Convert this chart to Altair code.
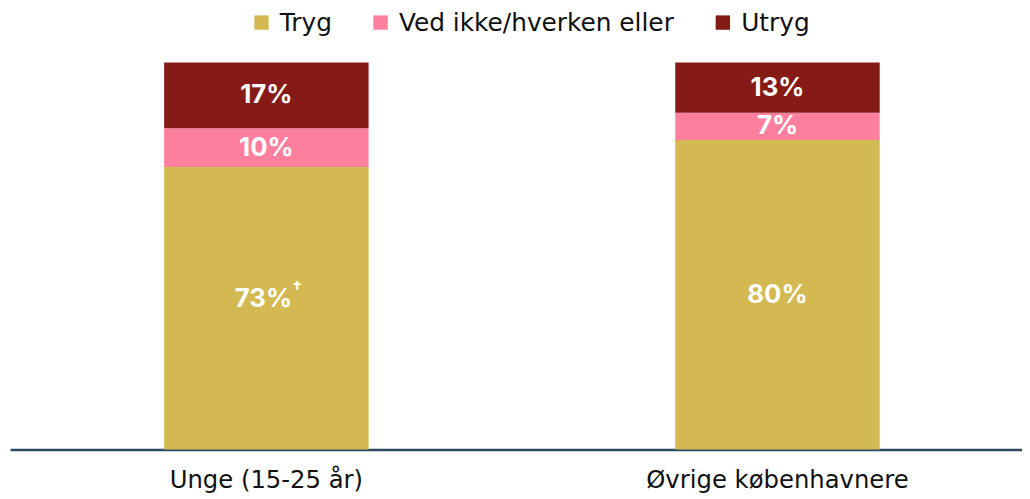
import altair as alt
import pandas as pd

groups = ["Unge (15-25 år)", "Unge (15-25 år)", "Unge (15-25 år)",
          "Øvrige københavnere", "Øvrige københavnere", "Øvrige københavnere"]
answers = ["Tryg", "Ved ikke/hverken eller", "Utryg",
           "Tryg", "Ved ikke/hverken eller", "Utryg"]
values = [73, 10, 17, 80, 7, 13]
orders = [0, 1, 2, 0, 1, 2]
notes = ["†", "", "", "", "", ""]

cats = ["Tryg", "Ved ikke/hverken eller", "Utryg"]
colors = ["#D4B952", "#FF7F9F", "#861A17"]
group_order = ["Unge (15-25 år)", "Øvrige københavnere"]

df = pd.DataFrame({"group": groups, "answer": answers, "value": values,
                   "ord": orders, "note": notes})
df["label"] = df["value"].astype(str) + "%"

FONT = "DejaVu Sans"
BFONT = "Inter"

base = alt.Chart(df).transform_stack(
    stack="value", groupby=["group"], as_=["y0", "y1"],
    sort=[alt.SortField("ord", order="ascending")]
).transform_calculate(mid="(datum.y0 + datum.y1) / 2")

xenc = alt.X("group:N", sort=group_order, title=None,
             scale=alt.Scale(paddingInner=0.6, paddingOuter=0.29, align=0.52),
             axis=alt.Axis(labelAngle=0, labelFontSize=24.5, labelFont=FONT,
                           labelColor="#111111", labelPadding=19, ticks=False,
                           labelLimit=0,
                           domainColor="#2E4A62", domainWidth=2.5, grid=False))
yscale = alt.Scale(domain=[0, 100], nice=False, zero=True)

bars = base.mark_bar().encode(
    x=xenc,
    y=alt.Y("y0:Q", scale=yscale, axis=None),
    y2="y1:Q",
    color=alt.Color("answer:N", scale=alt.Scale(domain=cats, range=colors),
                    legend=alt.Legend(title=None, orient="none", direction="horizontal",
                                      legendX=241, legendY=-53, symbolType="square",
                                      symbolSize=210, symbolStrokeWidth=0,
                                      labelOffset=6,
                                      labelFontSize=25, labelFont=FONT, labelLimit=0,
                                      labelColor="#111111", columnPadding=36,
                                      symbolOpacity=1)),
)

labels = base.transform_filter("datum.note == ''").mark_text(
    color="white", fontSize=26, fontWeight="bold",
    font=BFONT, baseline="middle").encode(
    x=alt.X("group:N", sort=group_order),
    y=alt.Y("mid:Q", scale=yscale),
    text="label:N",
)

noted = base.transform_filter("datum.note != ''")

noted_labels = noted.mark_text(
    color="white", fontSize=26, fontWeight="bold",
    font=BFONT, baseline="middle", dx=-3, dy=-9).encode(
    x=alt.X("group:N", sort=group_order),
    y=alt.Y("mid:Q", scale=yscale),
    text="label:N",
)

daggers = noted.mark_text(
    color="white", fontSize=17, fontWeight="bold", font=BFONT,
    align="left", baseline="middle", dx=26, dy=-19).encode(
    x=alt.X("group:N", sort=group_order),
    y=alt.Y("mid:Q", scale=yscale),
    text="note:N",
)

chart = alt.layer(bars, labels, noted_labels, daggers).properties(
    width=1020, height=390,
    autosize=alt.AutoSizeParams(type="none"),
    padding={"left": 2, "top": 53, "right": 0, "bottom": 48},
    background="white",
).configure_view(stroke=None)

chart.save("out.html", embed_options={"renderer": "svg", "actions": False})
